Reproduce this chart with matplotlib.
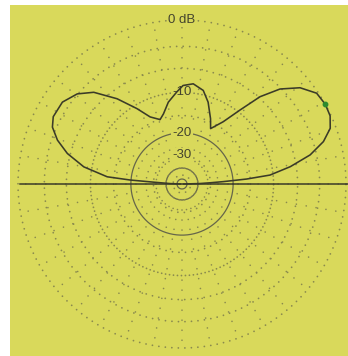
import numpy as np
import matplotlib
matplotlib.use("Agg")
import matplotlib.pyplot as plt
from matplotlib.patches import Rectangle

# Elevation pattern: elevation angle (deg, 0 = right horizon, 180 = left horizon) and gain (dB)
elev_deg = [0, 1.5, 2.5, 3.3, 4.4, 5.8, 9.1, 12.8, 16.7, 20.6, 24.7, 29.1, 34.0,
            39.2, 44.1, 48.2, 51.9, 56.5, 62.7, 66.4, 72.3, 77.2, 83.6, 89.4,
            93.3, 99.5, 104.8, 108.8, 115.4, 120.9, 127.3, 133.9, 139.3, 145.6,
            152.4, 156.3, 160.6, 165.1, 170.1, 174.5, 175.6, 176.3, 178.0, 180.0]
gain_db = [-80, -38, -30, -23.6, -15.9, -10.6, -6.9, -3.8, -1.8, -0.6, -0.1, 0.0, -0.17,
           -1.27, -3.15, -5.78, -9.55, -13.5, -16.6, -14.3, -11.1, -9.2, -8.35, -8.75,
           -9.9, -11.7, -14.0, -15.1, -13.6, -10.7, -7.3, -4.35, -2.94, -2.12,
           -2.08, -2.53, -3.72, -5.56, -8.55, -13.4, -19.7, -30, -45, -80]

cursor_deg = 29.1
cursor_db = 0.0

# Grid rings (dB) and their labels
dotted_rings = [0, -3, -6, -15, -30, -50]
dense_rings = [-10]
solid_rings = [-20, -40, -60]
ring_labels = {0: "0 dB", -10: "-10", -20: "-20", -30: "-30"}
radial_step_deg = 10

YELLOW = "#d9d95b"
DOT = "#8a8a4e"
TRACE = "#3b3b28"
SOLID = "#66664a"
TEXT = "#44442e"


def arrl(db):
    """ARRL log radial scale: 0.89 per 2 dB, 0 dB -> 1."""
    return 0.89 ** (-np.asarray(db, dtype=float) / 2.0)


W, H = 348, 356
fig = plt.figure(figsize=(W / 100, H / 100), dpi=100, facecolor="white")
fig.patches.append(Rectangle((10 / W, 0), 338 / W, 351 / H, transform=fig.transFigure,
                             facecolor=YELLOW, edgecolor="none", zorder=0))

ax = fig.add_axes([18 / W, 8 / H, 328 / W, 328 / H], projection="polar")
ax.set_zorder(2)
ax.set_facecolor("none")
ax.set_ylim(0, 1)
ax.axis("off")

theta_full = np.linspace(0, 2 * np.pi, 721)

for db in dotted_rings:
    ax.plot(theta_full, np.full_like(theta_full, arrl(db)), color=DOT, lw=1.3,
            linestyle=(0, (0.01, 3.6)), dash_capstyle="round", clip_on=False, zorder=1)
for db in dense_rings:
    ax.plot(theta_full, np.full_like(theta_full, arrl(db)), color=DOT, lw=1.3,
            linestyle=(0, (0.01, 2.2)), dash_capstyle="round", clip_on=False, zorder=1)
for db in solid_rings:
    ax.plot(theta_full, np.full_like(theta_full, arrl(db)), color=SOLID, lw=0.9,
            clip_on=False, zorder=1)

for a in np.arange(0, 360, radial_step_deg):
    t = np.deg2rad(a)
    ax.plot([t, t], [arrl(-40), 1.0], color=DOT, lw=1.2,
            linestyle=(0, (0.01, 6.0)), dash_capstyle="round", zorder=1)

# Horizon line
ax.plot([np.pi, 0, 0], [0.99, 0, 1.01], color=TRACE, lw=1.1, clip_on=False, zorder=3)

# Pattern trace
th = np.deg2rad(elev_deg)
ax.plot(th, arrl(gain_db), color=TRACE, lw=1.15, clip_on=False, zorder=4,
        solid_joinstyle="round")
ax.plot([np.deg2rad(cursor_deg)], [arrl(cursor_db)], "o", color="#2e8a2e", ms=3.2,
        clip_on=False, zorder=5)

for db, txt in ring_labels.items():
    ax.text(np.pi / 2, arrl(db), txt, ha="center", va="center", fontsize=9.5,
            family="Liberation Sans", color=TEXT, zorder=2,
            bbox=dict(boxstyle="square,pad=0.08", facecolor=YELLOW, edgecolor="none"))

fig.savefig("out.png", dpi=100, facecolor="white")
